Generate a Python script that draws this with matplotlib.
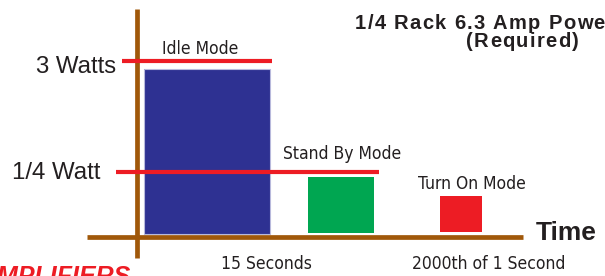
import matplotlib
matplotlib.use("Agg")
import matplotlib.pyplot as plt
from matplotlib import font_manager

# schematic data (levels in drawing units, axis baseline ~ 40)
modes = ["Idle Mode", "Stand By Mode", "Turn On Mode"]
bar_left = [144, 308, 440]
bar_width = [126, 66, 42]
bar_bottom = [42, 43, 44]
bar_top = [207, 99, 80]
bar_colors = ["#2E3192", "#00A651", "#ED1C24"]
mode_label_x = [200, 342, 472]
mode_label_y = [222, 117, 87]

power_labels = ["3 Watts", "1/4 Watt"]
power_level = [215, 104]
power_line_from = [122, 116]
power_line_to = [272, 379]
power_label_right = [116, 100]
power_label_base = [203, 97]

time_labels = ["15 Seconds", "2000th of 1 Second"]
time_label_x = [266, 489]

title_lines = ["1/4 Rack 6.3 Amp Power", "(Required)"]
title_x = [355, 466]
title_base = [247, 229]

# narrow face for the small labels
cond = [f for f in font_manager.fontManager.ttflist
        if f.name == "DejaVu Sans" and f.stretch == "condensed" and f.weight in (400, "normal")]
if cond:
    narrow = dict(family="DejaVu Sans", stretch="condensed", fontsize=12.5)
else:
    narrow = dict(family="Liberation Sans", fontsize=13.5)
regular = "Liberation Sans"

brown = "#A0580A"
red = "#ED1C24"
ink = "#231F20"

fig = plt.figure(figsize=(6.05, 2.76), dpi=100)
ax = fig.add_axes([0, 0, 1, 1])
ax.set_xlim(0, 605)
ax.set_ylim(0, 276)
ax.axis("off")
renderer = fig.canvas.get_renderer()


def spaced_text(x, y, s, track, **kw):
    # letter-spaced text, one glyph at a time (1 data unit == 1 pixel here)
    for ch in s:
        t = ax.text(x, y, ch, ha="left", va="baseline", **kw)
        w = t.get_window_extent(renderer).width if ch != " " else kw["fontsize"] * 100 / 72 * 0.278
        x += w + track


# bars
ax.bar(bar_left, [t - b for t, b in zip(bar_top, bar_bottom)], width=bar_width,
       bottom=bar_bottom, align="edge", color=bar_colors, zorder=2)
ax.bar(bar_left[0], bar_top[0] - bar_bottom[0], width=bar_width[0], bottom=bar_bottom[0],
       align="edge", fill=False, edgecolor="#B8B9DC", linewidth=0.8, zorder=3)

# axes lines
ax.plot([87, 523], [39, 39], color=brown, lw=3.4, solid_capstyle="butt", zorder=4)
ax.plot([136.5, 136.5], [18, 267], color=brown, lw=3.4, solid_capstyle="butt", zorder=4)

# power level lines
for lvl, x0, x1 in zip(power_level, power_line_from, power_line_to):
    ax.plot([x0, x1], [lvl, lvl], color=red, lw=3.0, solid_capstyle="butt", zorder=5)

for txt, xr, yb in zip(power_labels, power_label_right, power_label_base):
    ax.text(xr, yb, txt, ha="right", va="baseline", fontsize=17.3,
            family=regular, color=ink)

for txt, x, y in zip(modes, mode_label_x, mode_label_y):
    ax.text(x, y, txt, ha="center", va="baseline", color=ink, **narrow)

for txt, x in zip(time_labels, time_label_x):
    ax.text(x, 7, txt, ha="center", va="baseline", color=ink, **narrow)

ax.text(536, 36, "Time", ha="left", va="baseline", fontsize=19,
        family=regular, weight="bold", color=ink)

for txt, x, y in zip(title_lines, title_x, title_base):
    spaced_text(x, y, txt, 1.3, fontsize=14.5, family=regular, weight="bold", color=ink)

ax.text(131, -8, "AMPLIFIERS", ha="right", va="baseline", fontsize=18,
        family=regular, weight="bold", style="italic", color=red)

fig.savefig("out.png", dpi=100)
